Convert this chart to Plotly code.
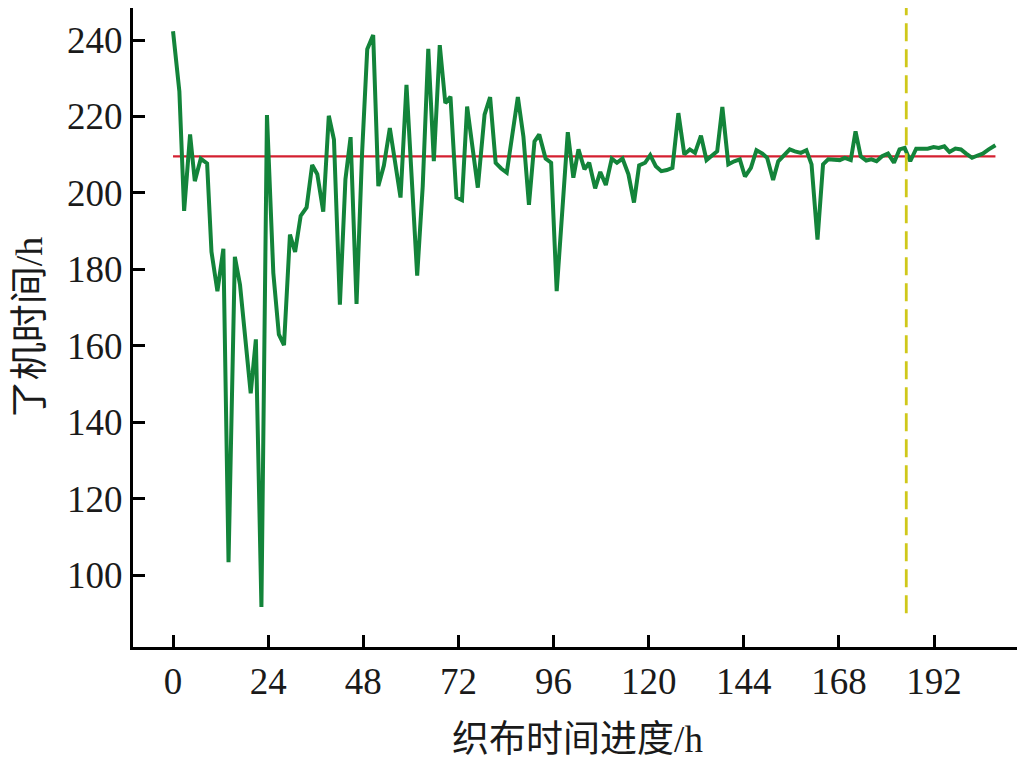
import plotly.graph_objects as go

# hours of weaving progress and finishing time (h)
hours = [0, 1.6, 2.8, 4.3, 5.5, 7.0, 8.6, 9.7, 11.2, 12.7, 14.0, 15.6, 16.9, 19.6, 20.9,
         22.3, 23.7, 25.3, 26.7, 28.0, 29.5, 30.8, 32.2, 33.7, 35.1, 36.4, 37.9, 39.3,
         40.6, 42.1, 43.5, 44.8, 46.3, 47.7, 49.0, 50.5, 51.8, 53.2, 54.7, 56.0, 57.4,
         58.9, 60.3, 61.6, 63.0, 64.4, 65.8, 67.3, 68.7, 70.0, 71.5, 72.9, 74.2, 75.6,
         76.9, 78.6, 80.0, 81.4, 82.8, 84.2, 85.6, 87.0, 88.4, 89.8, 91.2, 92.4, 94.0,
         95.4, 96.8, 98.2, 99.6, 101.0, 102.3, 103.8, 105.0, 106.5, 107.8, 109.2, 110.7,
         112.0, 113.4, 114.9, 116.3, 117.6, 119.1, 120.4, 121.8, 123.2, 124.6, 126.0,
         127.5, 129.0, 130.4, 131.7, 133.2, 134.6, 136.1, 137.3, 138.6, 140.1, 141.6,
         143.0, 144.3, 145.8, 147.2, 148.7, 149.9, 151.4, 152.7, 154.2, 155.6, 156.9,
         158.4, 159.8, 161.1, 162.6, 164.0, 165.3, 166.8, 168.2, 169.5, 171.0, 172.2,
         173.5, 174.9, 176.2, 177.5, 178.9, 180.4, 181.9, 183.3, 184.6, 186.0, 187.5,
         189.0, 190.4, 191.9, 193.2, 194.6, 195.9, 197.4, 198.8, 200.1, 201.6, 203.0,
         204.3, 205.8, 207.5]
finish_time = [242.3, 226.6, 195.3, 215.3, 203.1, 209.0, 207.7, 184.6, 174.3, 185.4, 103.4,
               183.3, 176.0, 147.6, 161.7, 91.7, 220.4, 179.1, 163.0, 160.2, 189.1, 184.6,
               194.0, 196.2, 207.3, 204.9, 195.1, 220.2, 214.0, 170.8, 203.6, 214.6, 171.0,
               210.5, 237.6, 241.3, 201.8, 207.2, 217.0, 207.5, 198.8, 228.3, 202.7, 178.4,
               201.8, 237.7, 208.3, 238.7, 223.5, 225.2, 198.8, 198.1, 222.6, 211.4, 201.4,
               220.5, 225.1, 207.9, 206.4, 205.3, 216.1, 225.1, 214.8, 196.9, 213.5, 215.3,
               209.0, 207.9, 174.3, 194.9, 215.9, 204.0, 211.4, 206.2, 207.9, 201.2, 205.5,
               202.1, 209.0, 207.9, 209.0, 204.9, 197.5, 207.2, 207.9, 209.9, 207.0, 205.7,
               206.0, 206.6, 220.9, 210.1, 211.4, 210.5, 215.0, 208.6, 209.8, 210.9, 222.5,
               207.5, 208.3, 208.8, 204.3, 206.6, 211.2, 210.3, 209.2, 203.4, 208.3, 210.1,
               211.4, 210.9, 210.5, 211.2, 207.5, 187.8, 207.5, 208.8, 208.6, 208.6, 209.2,
               208.6, 216.1, 209.6, 208.5, 208.8, 208.3, 209.6, 210.3, 207.9, 211.4, 211.8,
               208.3, 211.6, 211.6, 211.6, 212.0, 211.8, 212.2, 210.7, 211.6, 211.4, 210.3,
               209.2, 209.8, 210.3, 211.4, 212.5]

mean_level = 209.6
mean_span = [0, 207.5]
cut_hour = 185
cut_span = [90, 251]

x_ticks = [0, 24, 48, 72, 96, 120, 144, 168, 192, 214]
x_labels = ["0", "24", "48", "72", "96", "120", "144", "168", "192", ""]
y_ticks = [100, 120, 140, 160, 180, 200, 220, 240]

font_family = "Liberation Serif, Noto Sans CJK SC"

fig = go.Figure()

fig.add_trace(go.Scatter(x=mean_span, y=[mean_level, mean_level], mode="lines",
                         line=dict(color="#d42030", width=2.2), showlegend=False))

fig.add_trace(go.Scatter(x=hours, y=finish_time, mode="lines",
                         line=dict(color="#13843a", width=4), showlegend=False))

fig.add_trace(go.Scatter(x=[cut_hour, cut_hour], y=cut_span, mode="lines",
                         line=dict(color="#cfc81a", width=2.8, dash="18px,8px"),
                         showlegend=False))

# page body adds ~8px offset, so the figure is a bit smaller than the window
fig.update_layout(
    width=1017, height=752,
    margin=dict(l=125, r=3, t=0, b=113),
    plot_bgcolor="white", paper_bgcolor="white",
    font=dict(family=font_family, size=37, color="#1a1a1a"),
)

fig.update_xaxes(
    range=[-10.1, 214.2], tickvals=x_ticks, ticktext=x_labels, automargin=False,
    showline=True, linecolor="black", linewidth=3, showgrid=False, zeroline=False,
    ticks="inside", ticklen=12, tickwidth=2.5, tickcolor="black",
    title=dict(text="织布时间进度/h", font=dict(size=37), standoff=25),
)
fig.update_yaxes(
    range=[81.2, 248.4], tickvals=y_ticks, automargin=False,
    showline=True, linecolor="black", linewidth=3, showgrid=False, zeroline=False,
    ticks="inside", ticklen=12, tickwidth=2.5, tickcolor="black",
    title=dict(text="了机时间/h", font=dict(size=38), standoff=27),
)

fig.write_html("out.html")
